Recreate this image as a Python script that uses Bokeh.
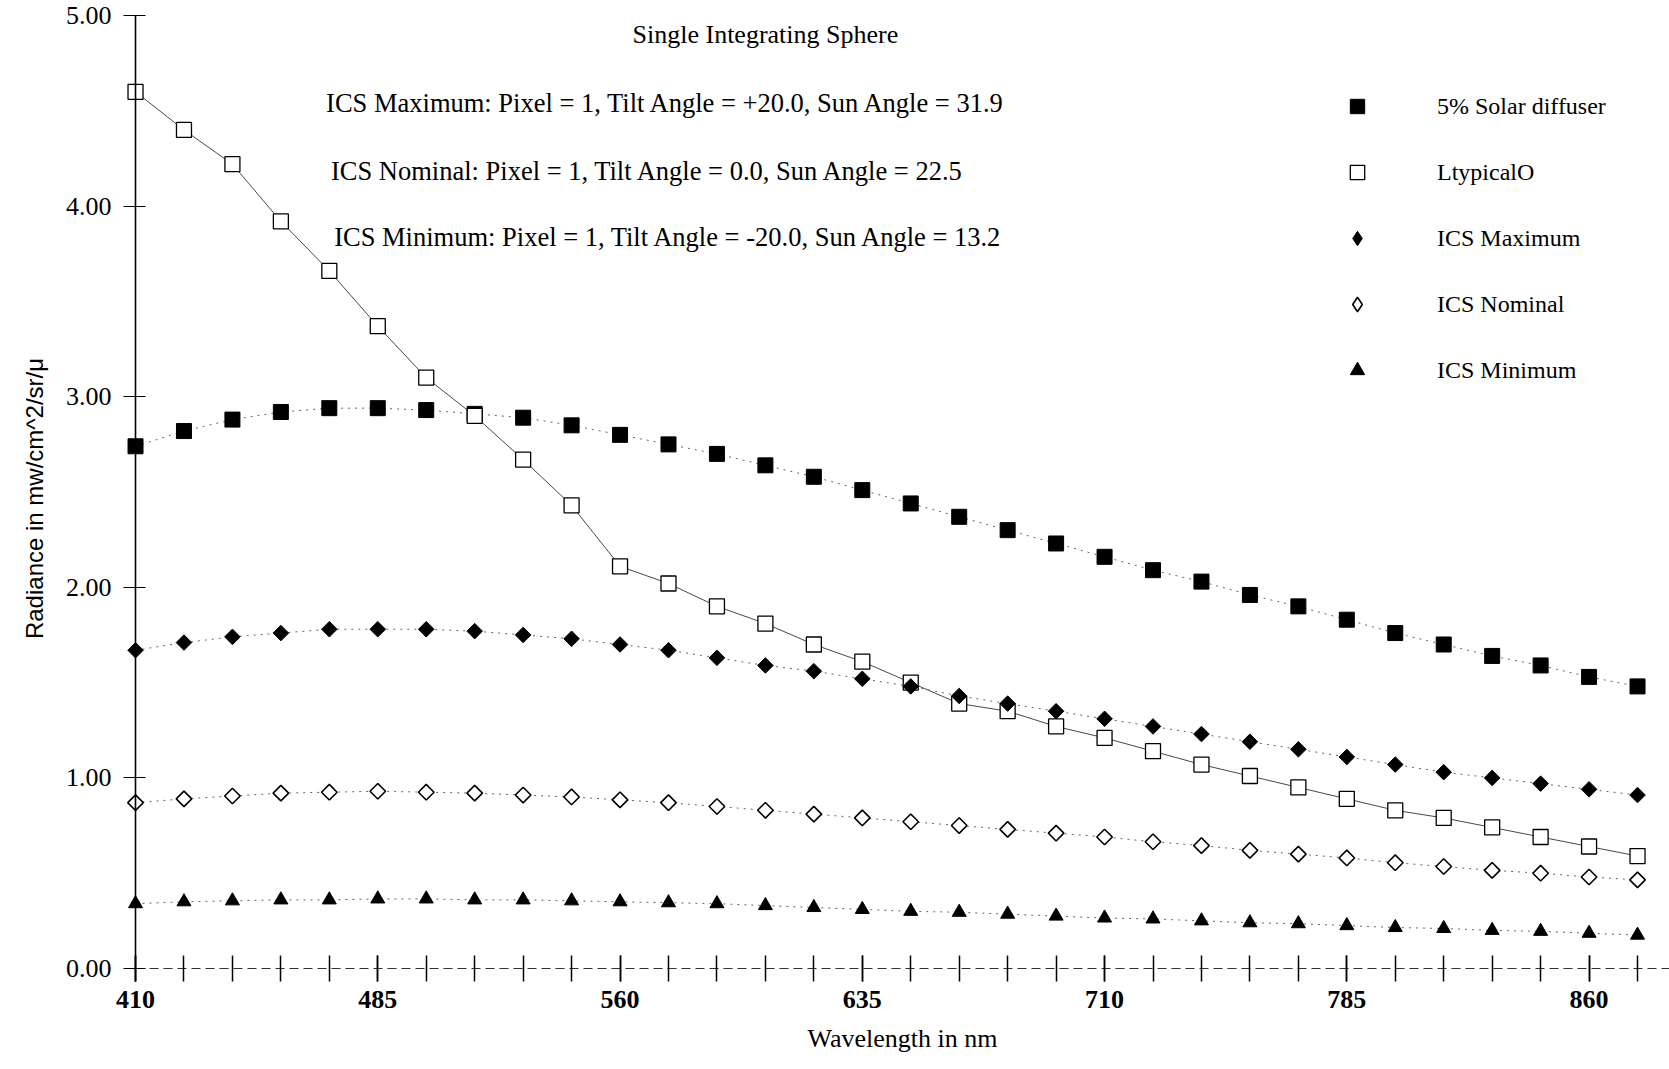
import math
from bokeh.plotting import figure
from bokeh.models import (Range1d, FixedTicker, NumeralTickFormatter, Label, Legend,
                          LegendItem, ColumnDataSource)
from bokeh.embed import file_html
from bokeh.resources import INLINE

# ---------------- data ----------------
wavelength = [410, 425, 440, 455, 470, 485, 500, 515, 530, 545, 560, 575, 590, 605, 620, 635,
              650, 665, 680, 695, 710, 725, 740, 755, 770, 785, 800, 815, 830, 845, 860, 875]

solar_diffuser = [2.74, 2.82, 2.88, 2.92, 2.94, 2.94, 2.93, 2.91, 2.89, 2.85, 2.80, 2.75,
                  2.70, 2.64, 2.58, 2.51, 2.44, 2.37, 2.30, 2.23, 2.16, 2.09, 2.03, 1.96,
                  1.90, 1.83, 1.76, 1.70, 1.64, 1.59, 1.53, 1.48]

l_typical = [4.60, 4.40, 4.22, 3.92, 3.66, 3.37, 3.10, 2.90, 2.67, 2.43, 2.11, 2.02,
             1.90, 1.81, 1.70, 1.61, 1.50, 1.39, 1.35, 1.27, 1.21, 1.14, 1.07, 1.01,
             0.95, 0.89, 0.83, 0.79, 0.74, 0.69, 0.64, 0.59]

ics_maximum = [1.67, 1.71, 1.74, 1.76, 1.78, 1.78, 1.78, 1.77, 1.75, 1.73, 1.70, 1.67,
               1.63, 1.59, 1.56, 1.52, 1.48, 1.43, 1.39, 1.35, 1.31, 1.27, 1.23, 1.19,
               1.15, 1.11, 1.07, 1.03, 1.00, 0.97, 0.94, 0.91]

ics_nominal = [0.87, 0.89, 0.905, 0.92, 0.925, 0.93, 0.925, 0.92, 0.91, 0.90, 0.885, 0.87,
               0.85, 0.83, 0.81, 0.79, 0.77, 0.75, 0.73, 0.71, 0.69, 0.665, 0.645, 0.62,
               0.60, 0.58, 0.555, 0.535, 0.515, 0.50, 0.48, 0.465]

ics_minimum = [0.34, 0.35, 0.355, 0.36, 0.36, 0.365, 0.365, 0.36, 0.36, 0.355, 0.35, 0.345,
               0.34, 0.33, 0.32, 0.31, 0.30, 0.295, 0.285, 0.275, 0.265, 0.26, 0.25, 0.24,
               0.235, 0.225, 0.215, 0.21, 0.20, 0.195, 0.185, 0.175]

x_tick_values = [410, 485, 560, 635, 710, 785, 860]
y_tick_values = [0, 1, 2, 3, 4, 5]

series_names = ["5% Solar diffuser", "LtypicalO", "ICS Maximum", "ICS Nominal", "ICS Minimum"]

title_text = "Single Integrating Sphere"
note_lines = [
    "ICS Maximum: Pixel = 1, Tilt Angle = +20.0, Sun Angle = 31.9",
    "ICS Nominal: Pixel = 1, Tilt Angle = 0.0, Sun Angle = 22.5",
    "ICS Minimum: Pixel = 1, Tilt Angle = -20.0, Sun Angle = 13.2",
]

SERIF = "Liberation Serif"
SANS = "Liberation Sans"

src = ColumnDataSource(dict(wl=wavelength, solar=solar_diffuser, ltyp=l_typical,
                            imax=ics_maximum, inom=ics_nominal, imin=ics_minimum))

# frame covers the whole canvas; axes are placed at x=410 and y=0 inside it
p = figure(width=1669, height=1069, output_backend="svg", toolbar_location=None,
           x_range=Range1d(368.2, 884.9), y_range=Range1d(-0.530, 5.079),
           min_border_left=0, min_border_right=0, min_border_top=0,
           min_border_bottom=0)
p.grid.visible = False
p.outline_line_color = None
p.background_fill_color = "white"
p.border_fill_color = "white"

# ---------------- axes ----------------
xa = p.xaxis[0]
xa.ticker = FixedTicker(ticks=x_tick_values, minor_ticks=wavelength)
xa.fixed_location = 0
xa.bounds = (410, 885)
xa.axis_line_color = "#333333"
xa.axis_line_width = 1
xa.axis_line_dash = "9 5"
xa.major_tick_in = 13
xa.major_tick_out = 13
xa.minor_tick_in = 13
xa.minor_tick_out = 13
xa.major_tick_line_color = "black"
xa.minor_tick_line_color = "black"
xa.major_tick_line_width = 1.5
xa.minor_tick_line_width = 1.5
xa.major_label_text_font = SERIF
xa.major_label_text_font_size = "26px"
xa.major_label_text_font_style = "bold"
xa.major_label_text_color = "black"
xa.major_label_standoff = 10
xa.axis_label = "Wavelength in nm"
xa.axis_label_text_font = SERIF
xa.axis_label_text_font_size = "26px"
xa.axis_label_text_font_style = "normal"
xa.axis_label_text_color = "black"
xa.axis_label_standoff = 12

ya = p.yaxis[0]
ya.ticker = FixedTicker(ticks=y_tick_values)
ya.fixed_location = 410
ya.bounds = (-0.07, 5.0)
ya.formatter = NumeralTickFormatter(format="0.00")
ya.axis_line_color = "black"
ya.axis_line_width = 1.6
ya.major_tick_in = 10
ya.major_tick_out = 12
ya.minor_tick_line_color = None
ya.major_tick_line_color = "black"
ya.major_tick_line_width = 1.2
ya.major_label_text_font = SERIF
ya.major_label_text_font_size = "26px"
ya.major_label_text_color = "black"
ya.major_label_standoff = 12
ya.axis_label = "Radiance in mw/cm^2/sr/\u03bc"
ya.axis_label_text_font = SANS
ya.axis_label_text_font_size = "24px"
ya.axis_label_text_font_style = "normal"
ya.axis_label_text_color = "black"
ya.axis_label_standoff = 15

# ---------------- series ----------------
dot = dict(line_color="#666666", line_width=1, line_dash="2 5")
p.line("wl", "solar", source=src, **dot)
p.line("wl", "ltyp", source=src, line_color="#333333", line_width=0.9)
p.line("wl", "imax", source=src, **dot)
p.line("wl", "inom", source=src, **dot)
p.line("wl", "imin", source=src, **dot)

r_solar = p.scatter("wl", "solar", source=src, marker="square", size=15,
                    fill_color="black", line_color="black")
r_ltyp = p.scatter("wl", "ltyp", source=src, marker="square", size=15,
                   fill_color="white", line_color="black", line_width=1.3)
# diamonds drawn as squares turned by 45 degrees
p.scatter("wl", "imax", source=src, marker="square", size=11, angle=math.pi / 4,
          fill_color="black", line_color="black")
p.scatter("wl", "inom", source=src, marker="square", size=11, angle=math.pi / 4,
          fill_color="white", line_color="black", line_width=1.6)
r_min = p.scatter("wl", "imin", source=src, marker="triangle", size=14,
                  fill_color="black", line_color="black")
# hidden diamond renderers, used only for the legend glyphs
r_max = p.scatter("wl", "imax", source=src, marker="diamond", size=19,
                  fill_color="black", line_color="black", visible=False)
r_nom = p.scatter("wl", "inom", source=src, marker="diamond", size=19,
                  fill_color="white", line_color="black", line_width=1.6, visible=False)

legend = Legend(
    items=[LegendItem(label=n, renderers=[r]) for n, r in
           zip(series_names, [r_solar, r_ltyp, r_max, r_nom, r_min])],
    location=(1339, 681), glyph_width=36, glyph_height=36, label_standoff=62,
    spacing=30, padding=0, margin=0, border_line_color=None,
    background_fill_alpha=0, label_text_font=SERIF, label_text_font_size="24px",
    label_text_color="black")
p.add_layout(legend)

# ---------------- texts ----------------
p.add_layout(Label(x=605, y=4.90, text=title_text, text_align="center",
                   text_baseline="middle", text_font=SERIF, text_font_size="26px",
                   text_color="black"))
note_y = [4.543, 4.186, 3.84]
note_x = [469, 470.5, 471.5]
for t, xx, yy in zip(note_lines, note_x, note_y):
    p.add_layout(Label(x=xx, y=yy, text=t, text_align="left", text_baseline="middle",
                       text_font=SERIF, text_font_size="26.5px", text_color="black"))

open("out.html", "w").write(file_html(p, INLINE))
